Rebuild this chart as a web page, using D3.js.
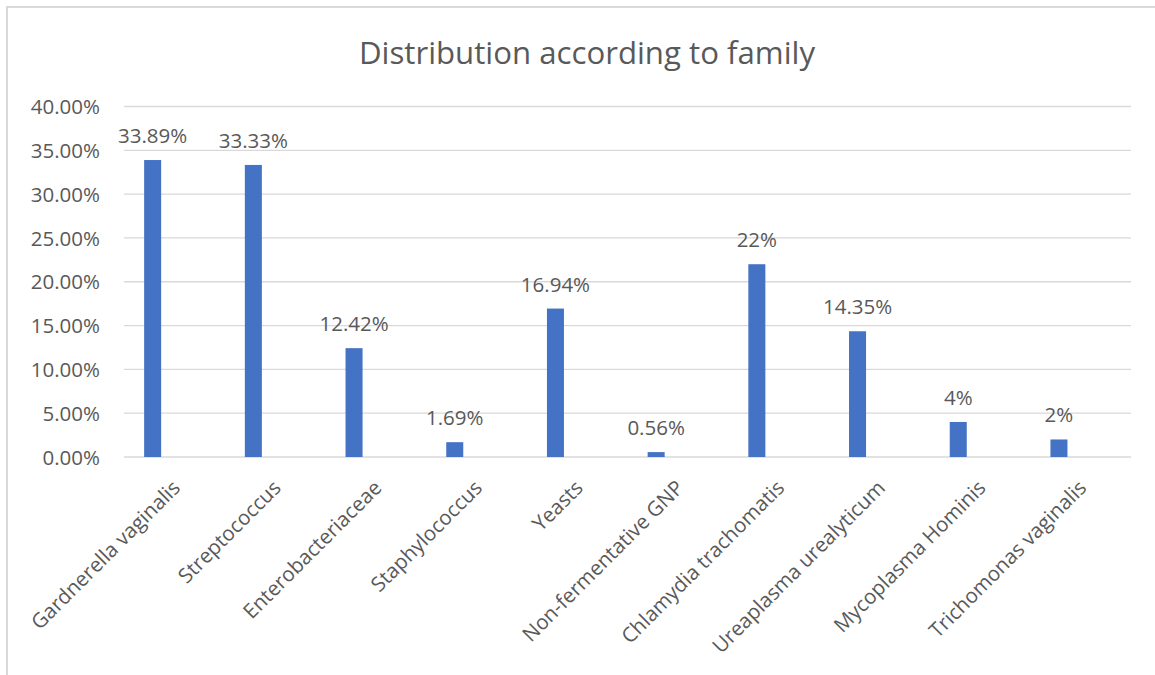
<!DOCTYPE html>
<html>
<head>
<meta charset="utf-8">
<script src="https://cdn.jsdelivr.net/npm/d3@7"></script>
<style>
  html, body { margin: 0; padding: 0; background: #fff; }
  svg { display: block; }
  text { font-family: "Open Sans", "Noto Sans", sans-serif; fill: #595959; }
</style>
</head>
<body>
<script>
const categories = ["Gardnerella vaginalis", "Streptococcus", "Enterobacteriaceae", "Staphylococcus", "Yeasts", "Non-fermentative GNP", "Chlamydia trachomatis", "Ureaplasma urealyticum", "Mycoplasma Hominis", "Trichomonas vaginalis"];
const values = [33.89, 33.33, 12.42, 1.69, 16.94, 0.56, 22, 14.35, 4, 2];
const valueLabels = ["33.89%", "33.33%", "12.42%", "1.69%", "16.94%", "0.56%", "22%", "14.35%", "4%", "2%"];
const yTicks = [0, 5, 10, 15, 20, 25, 30, 35, 40];
const title = "Distribution according to family";

const W = 1155, H = 675;
const margin = { left: 124, right: 24, top: 106.5, bottom: 218 };
const FS = 20.5;

const svg = d3.select("body").append("svg").attr("width", W).attr("height", H);

// outer border
svg.append("path")
  .attr("d", `M7,${H} L7,7 L${W},7`)
  .attr("fill", "none").attr("stroke", "#d9d9d9").attr("stroke-width", 2);

const x = d3.scaleBand().domain(categories).range([margin.left, W - margin.right]);
const y = d3.scaleLinear().domain([0, 40]).range([H - margin.bottom, margin.top]);

// gridlines
svg.append("g").selectAll("line").data(yTicks).join("line")
  .attr("x1", margin.left).attr("x2", W - margin.right)
  .attr("y1", d => y(d)).attr("y2", d => y(d))
  .attr("stroke", "#d9d9d9").attr("stroke-width", 1.3);

// y axis labels
const yAxis = d3.axisLeft(y).tickValues(yTicks).tickSize(0).tickPadding(0)
  .tickFormat(d => d.toFixed(2) + "%");
const yg = svg.append("g").attr("transform", `translate(${margin.left - 24},0)`).call(yAxis);
yg.select(".domain").remove();
yg.selectAll("text").attr("font-size", FS).attr("fill", "#595959")
  .attr("font-family", "Open Sans, sans-serif").attr("dy", "0.35em");

// bars
const barOff = 0.2, barW = 0.169;
svg.append("g").selectAll("rect").data(values).join("rect")
  .attr("x", (d, i) => x(categories[i]) + x.step() * barOff)
  .attr("width", x.step() * barW)
  .attr("y", d => y(d))
  .attr("height", d => y(0) - y(d))
  .attr("fill", "#4472c4");

// data labels
svg.append("g").selectAll("text").data(values).join("text")
  .attr("x", (d, i) => x(categories[i]) + x.step() * (barOff + barW / 2))
  .attr("y", d => y(d) - 17)
  .attr("text-anchor", "middle")
  .attr("font-size", FS)
  .text((d, i) => valueLabels[i]);

// x axis labels
const xAxis = d3.axisBottom(x).tickSize(0).tickPadding(0);
const xg = svg.append("g").attr("transform", `translate(0,${y(0)})`).call(xAxis);
xg.select(".domain").remove();
xg.selectAll(".tick text")
  .attr("font-size", FS).attr("fill", "#595959")
  .attr("font-family", "Open Sans, sans-serif")
  .attr("text-anchor", "end")
  .attr("dy", "0.35em")
  .attr("transform", "translate(2,27) rotate(-45)");

// title
svg.append("text")
  .attr("x", 587).attr("y", 64)
  .attr("text-anchor", "middle")
  .attr("font-size", 31.2)
  .text(title);
</script>
</body>
</html>
